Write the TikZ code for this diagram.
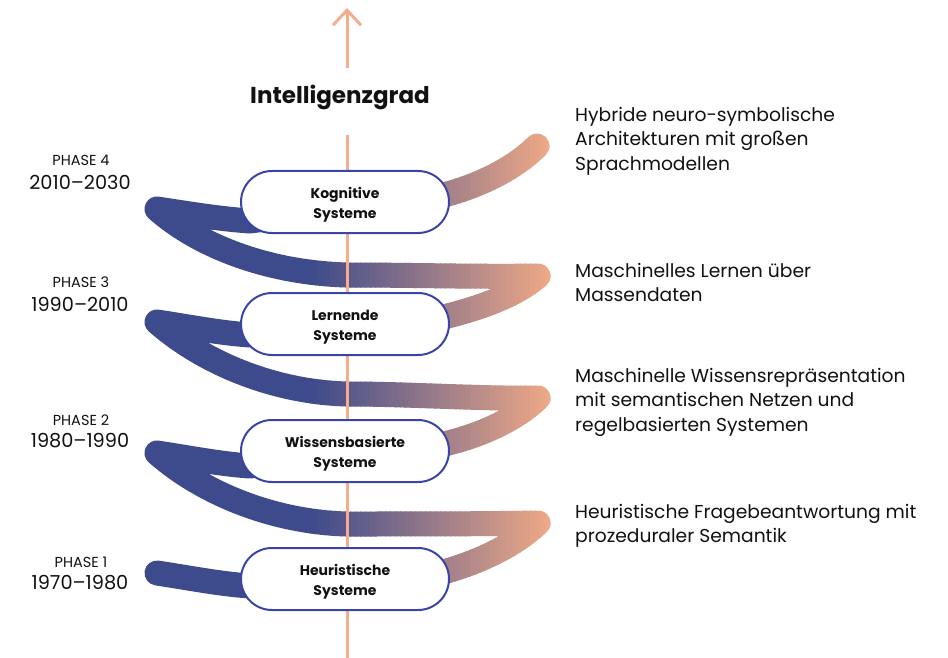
\documentclass[tikz,border=0pt]{standalone}
\usepackage{fontspec}
\setmainfont{Poppins}
\usetikzlibrary{arrows.meta}
\definecolor{navyc}{RGB}{61,74,139}
\definecolor{peachc}{RGB}{237,168,135}
\definecolor{axisc}{RGB}{247,172,140}
\definecolor{pillc}{RGB}{58,68,168}
\definecolor{textc}{RGB}{17,17,17}
\tikzset{
  ribbon/.style={line width=25pt, line cap=round, line join=round},
  pill/.style={draw=pillc, line width=2pt, fill=white, rounded corners=31pt,
    minimum width=208pt, minimum height=62pt, inner sep=0pt},
  pilltext/.style={align=center, inner sep=0pt,
    text=textc, font=\bfseries\fontsize{14}{20}\selectfont},
  desc/.style={anchor=north west, align=left, inner sep=0pt, text=textc,
    font=\fontsize{18.7}{24.5}\selectfont},
  phase/.style={text=textc, inner sep=0pt, font=\fontsize{14.5}{16}\selectfont},
  years/.style={text=textc, inner sep=0pt, font=\fontsize{19.3}{22}\selectfont},
  axis/.style={draw=axisc, line width=3pt}
}
\def\helix{(157,573) .. controls (190,578) and (220,584) .. (250,586)
  -- (440,573) .. controls (480,562) and (515,545) .. (538,523)
  .. controls (480,524) and (410,524) .. (347,524)
  .. controls (270,522) and (200,491) .. (157,453)
  .. controls (190,458) and (220,464) .. (250,466)
  -- (440,445) .. controls (480,436) and (515,420) .. (538,398)
  .. controls (480,399) and (410,394) .. (347,394)
  .. controls (270,392) and (200,360) .. (157,322)
  .. controls (190,327) and (220,333) .. (250,335)
  -- (440,318) .. controls (480,308) and (515,296) .. (538,276)
  .. controls (480,277) and (410,275) .. (347,275)
  .. controls (270,273) and (200,247) .. (157,209)
  .. controls (190,214) and (220,219) .. (250,221)
  -- (440,196) .. controls (480,186) and (515,168) .. (537,146)}
\begin{document}
\begin{tikzpicture}[x=1pt,y=-1pt]
\useasboundingbox (0,0) rectangle (948,658);
% ribbons with horizontal gradient (strips)
\begin{scope}
  \clip (0,0) rectangle (311,658);
  \draw[ribbon, draw=navyc] \helix;
\end{scope}
\foreach \i in {0,...,47} {
  \pgfmathsetmacro\xa{310+5*\i}
  \pgfmathtruncatemacro\pct{round(100*\i/47)}
  \begin{scope}
    \clip (\xa,0) rectangle (\xa+6,658);
    \draw[ribbon, draw=peachc!\pct!navyc] \helix;
  \end{scope}
}
\begin{scope}
  \clip (549,0) rectangle (948,658);
  \draw[ribbon, draw=peachc] \helix;
\end{scope}
% axis
\coordinate (axtop) at (347,135);
\coordinate (axbot) at (347,658);
\draw[axis] (axtop) -- (axbot);
\coordinate (arbase) at (347,68);
\coordinate (artip) at (347,8);
\draw[axis, -{Straight Barb[length=15pt,width=28pt,line width=3pt]}] (arbase) -- (artip);
\node[text=textc, font=\bfseries\fontsize{23}{26}\selectfont, anchor=base] (title) at (340,104) {Intelligenzgrad};
% nodes
\node[pill] (p4) at (345,202) {};
\node[pill] (p3) at (345,324) {};
\node[pill] (p2) at (345,451) {};
\node[pill] (p1) at (345,579) {};
\node[pilltext] (t4) at ([yshift=-3pt]p4.center) {Kognitive\\Systeme};
\node[pilltext] (t3) at ([yshift=-3pt]p3.center) {Lernende\\Systeme};
\node[pilltext] (t2) at ([yshift=-3pt]p2.center) {Wissensbasierte\\Systeme};
\node[pilltext] (t1) at ([yshift=-3pt]p1.center) {Heuristische\\Systeme};
% left labels
\node[phase] (ph4) at (81,160) {PHASE 4};
\node[years] (y4) at (80,182) {2010–2030};
\node[phase] (ph3) at (81,282) {PHASE 3};
\node[years] (y3) at (80,304) {1990–2010};
\node[phase] (ph2) at (81,420) {PHASE 2};
\node[years] (y2) at (80,441) {1980–1990};
\node[phase] (ph1) at (81,562) {PHASE 1};
\node[years] (y1) at (80,583) {1970–1980};
% descriptions
\node[desc] (d4) at (575,107) {Hybride neuro-symbolische\\Architekturen mit großen\\Sprachmodellen};
\node[desc] (d3) at (575,263) {Maschinelles Lernen über\\Massendaten};
\node[desc] (d2) at (575,368) {Maschinelle Wissensrepräsentation\\mit semantischen Netzen und\\regelbasierten Systemen};
\node[desc] (d1) at (575,504) {Heuristische Fragebeantwortung mit\\prozeduraler Semantik};
\end{tikzpicture}
\end{document}
